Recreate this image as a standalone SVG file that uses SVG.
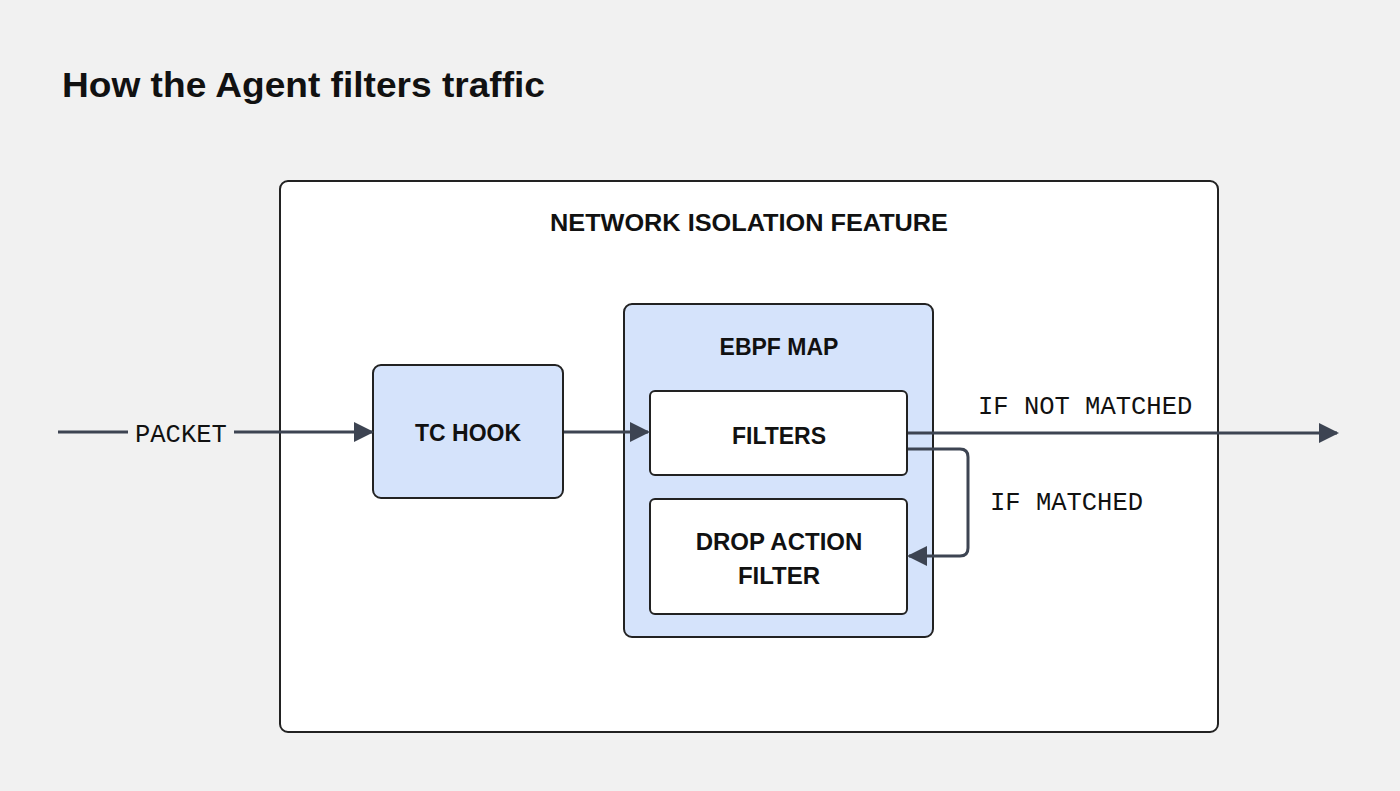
<svg xmlns="http://www.w3.org/2000/svg" width="1400" height="791" viewBox="0 0 1400 791">
<style>
.b{font-family:"Liberation Sans",Arial,sans-serif;font-weight:bold;fill:#111;text-anchor:middle}
.m{font-family:"Liberation Mono","DejaVu Sans Mono",monospace;font-size:25.5px;fill:#111}
.c{stroke:#3d4452;stroke-width:3;fill:none}
</style>
<defs>
<marker id="ab" viewBox="0 0 10 10" refX="9" refY="5" markerWidth="20" markerHeight="22" orient="auto" markerUnits="userSpaceOnUse"><path d="M0,0 L10,5 L0,10z" fill="#3d4452"/></marker></defs>
<rect width="1400" height="791" fill="#f1f1f1"/>
<text x="62" y="97" font-family="Liberation Sans,Arial,sans-serif" font-weight="bold" font-size="35" fill="#111" textLength="483" lengthAdjust="spacingAndGlyphs">How the Agent filters traffic</text>
<g id="feature"><rect x="280" y="181" width="938" height="551" rx="8" fill="#fff" stroke="#222" stroke-width="2"/>
<text class="b" x="749" y="231" font-size="24" textLength="398" lengthAdjust="spacingAndGlyphs">NETWORK ISOLATION FEATURE</text></g>
<g id="tchook"><rect x="373" y="365" width="190" height="133" rx="8" fill="#d5e3fb" stroke="#222" stroke-width="2"/>
<text class="b" x="468" y="441" font-size="23">TC HOOK</text></g>
<g id="ebpf"><rect x="624" y="304" width="309" height="333" rx="8" fill="#d5e3fb" stroke="#222" stroke-width="2"/>
<text class="b" x="779" y="355" font-size="23">EBPF MAP</text></g>
<g id="filters"><rect x="650" y="391" width="257" height="84" rx="5" fill="#fff" stroke="#222" stroke-width="2"/>
<text class="b" x="779" y="444" font-size="23">FILTERS</text></g>
<g id="drop"><rect x="650" y="499" width="257" height="115" rx="5" fill="#fff" stroke="#222" stroke-width="2"/>
<text class="b" x="779" y="550" font-size="24">DROP ACTION</text><text class="b" x="779" y="584" font-size="24">FILTER</text></g>
<g id="connectors">
<path class="c" d="M58,432 H128 M234,432 H372" marker-end="url(#ab)"/>
<path class="c" d="M564,432 H648" marker-end="url(#ab)"/>
<path class="c" d="M908,433 H1337" marker-end="url(#ab)"/>
<path class="c" d="M908,449 H960 Q968,449 968,457 V548 Q968,556 960,556 H909" marker-end="url(#ab)"/>
<text class="m" x="135" y="442">PACKET</text>
<text class="m" x="978" y="414">IF NOT MATCHED</text>
<text class="m" x="990" y="510">IF MATCHED</text>
</g>
</svg>
